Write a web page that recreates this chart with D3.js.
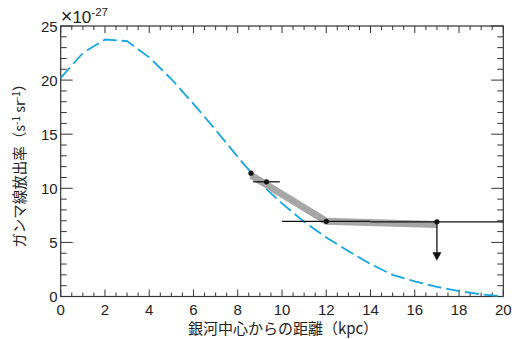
<!DOCTYPE html>
<html>
<head>
<meta charset="utf-8">
<script src="https://cdn.jsdelivr.net/npm/d3@7/dist/d3.min.js"></script>
<style>
  html, body { margin: 0; padding: 0; background: #fff; }
  svg { display: block; }
  text { font-family: "Liberation Sans", Arial, "Noto Sans CJK JP", sans-serif; fill: #222; }
  .cjk { font-family: "Noto Sans CJK JP", "Liberation Sans", sans-serif; }
</style>
</head>
<body>
<script>
// Model emissivity profile (units of 1e-27), sampled every 1 kpc
const modelR = [0,1,2,3,4,5,6,7,8,9,10,11,12,13,14,15,16,17,18,19,20];
const modelQ = [20.2,22.5,23.75,23.6,22.1,20.1,17.8,15.4,12.9,10.5,8.6,6.9,5.45,4.2,3.0,2.0,1.4,0.9,0.5,0.2,0.0];

// Measured emissivities with radial ranges
const obsR    = [8.6, 9.3, 12, 17];
const obsQ    = [11.4, 10.6, 6.95, 6.9];
const obsRmin = [null, 8.7, 10, 14];
const obsRmax = [null, 9.9, 14, 20];
const upperLimit = [false, false, false, true];
const limitTip = 3.3;

// Shaded trend through the measurements
const bandR = [8.6, 12, 17];
const bandQ = [11.2, 6.95, 6.65];

const xTicks = [0,2,4,6,8,10,12,14,16,18,20];
const yTicks = [0,5,10,15,20,25];

const W = 521, H = 339;
const L = 60.7, R = 503.3, T = 26, B = 296.5;

const svg = d3.select("body").append("svg").attr("width", W).attr("height", H);
const x = d3.scaleLinear().domain([0, 20]).range([L, R]);
const y = d3.scaleLinear().domain([0, 25]).range([B, T]);

const axisColor = "#333";

// Inward ticks on all four sides
const xMinor = d3.range(0, 20.001, 0.5);
const yMinor = d3.range(0, 25.001, 1);
const g = svg.append("g").attr("stroke", axisColor).attr("stroke-width", 1);
xMinor.forEach(v => {
  const major = Math.abs(v % 2) < 1e-6;
  const len = major ? 7 : 4;
  g.append("line").attr("x1", x(v)).attr("x2", x(v)).attr("y1", B).attr("y2", B - len);
  g.append("line").attr("x1", x(v)).attr("x2", x(v)).attr("y1", T).attr("y2", T + len);
});
yMinor.forEach(v => {
  const major = Math.abs(v % 5) < 1e-6;
  const len = major ? 12 : 6;
  g.append("line").attr("y1", y(v)).attr("y2", y(v)).attr("x1", L).attr("x2", L + len);
  g.append("line").attr("y1", y(v)).attr("y2", y(v)).attr("x1", R).attr("x2", R - len);
});
svg.append("rect").attr("x", L).attr("y", T).attr("width", R - L).attr("height", B - T)
  .attr("fill", "none").attr("stroke", axisColor).attr("stroke-width", 1.2);

// Tick labels
svg.append("g").selectAll("text").data(xTicks).join("text")
  .attr("x", d => x(d)).attr("y", B + 18).attr("text-anchor", "middle")
  .style("font-size", "15px").text(d => d);
svg.append("g").selectAll("text").data(yTicks).join("text")
  .attr("x", L - 3).attr("y", d => y(d) + 5.5).attr("text-anchor", "end")
  .style("font-size", "15px").text(d => d);

// Scale factor
const sf = svg.append("text").attr("x", L).attr("y", 22.5).style("font-size", "17px");
sf.append("tspan").style("font-size", "20px").style("font-weight", "300").text("×");
sf.append("tspan").style("font-size", "17px").text("10");
sf.append("tspan").attr("dy", -7).style("font-size", "11.5px").text("-27");

// Axis titles
svg.append("text").attr("class", "cjk").attr("x", (L + R) / 2 + 1).attr("y", 334)
  .attr("text-anchor", "middle").style("font-size", "15px").text("銀河中心からの距離（kpc）");
const yt = svg.append("text").attr("class", "cjk")
  .attr("transform", `translate(25,${(T + B) / 2 + 1}) rotate(-90)`)
  .attr("text-anchor", "middle").style("font-size", "14.5px");
yt.append("tspan").text("ガンマ線放出率（s");
yt.append("tspan").attr("dy", -5).style("font-size", "10px").text("-1");
yt.append("tspan").attr("dy", 5).text(" sr");
yt.append("tspan").attr("dy", -5).style("font-size", "10px").text("-1");
yt.append("tspan").attr("dy", 5).text("）");

// Model curve
const line = d3.line().x((d, i) => x(modelR[i])).y(d => y(d));
svg.append("path").datum(modelQ).attr("d", line)
  .attr("fill", "none").attr("stroke", "#14a5e3").attr("stroke-width", 1.8)
  .attr("stroke-dasharray", "14,5");

// Gray band
const bandLine = d3.line().x((d, i) => x(bandR[i])).y(d => y(d));
svg.append("path").datum(bandQ).attr("d", bandLine)
  .attr("fill", "none").attr("stroke", "#a6a6a6").attr("stroke-width", 7)
  .attr("stroke-linejoin", "miter");

// Measurements
const obs = svg.append("g");
obsR.forEach((r, i) => {
  if (obsRmin[i] !== null) {
    obs.append("line").attr("x1", x(obsRmin[i])).attr("x2", x(obsRmax[i]))
      .attr("y1", y(obsQ[i])).attr("y2", y(obsQ[i]))
      .attr("stroke", "#111").attr("stroke-width", 1.3);
  }
  if (upperLimit[i]) {
    obs.append("line").attr("x1", x(r)).attr("x2", x(r))
      .attr("y1", y(obsQ[i])).attr("y2", y(limitTip) - 7)
      .attr("stroke", "#111").attr("stroke-width", 1.3);
    const tx = x(r), ty = y(limitTip);
    obs.append("path").attr("d", `M${tx - 4.5},${ty - 8.5}L${tx + 4.5},${ty - 8.5}L${tx},${ty}Z`)
      .attr("fill", "#111");
  }
  obs.append("circle").attr("cx", x(r)).attr("cy", y(obsQ[i])).attr("r", 2.6).attr("fill", "#111");
});
</script>
</body>
</html>
